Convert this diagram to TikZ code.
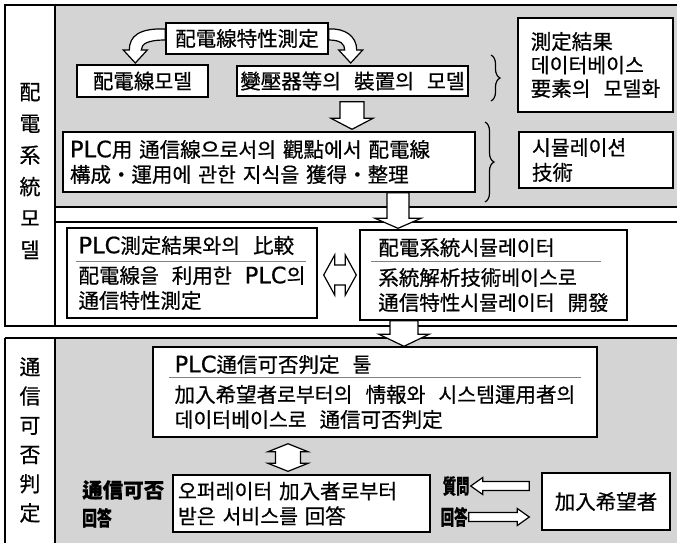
\documentclass[tikz,border=0pt]{standalone}
\usepackage{fontspec}
\setmainfont{Noto Sans CJK KR}[FakeBold=0.6]
\newfontfamily\plcfont{DejaVu Sans}[Scale=1.1,FakeBold=0.6]
\newcommand\plcword{{\plcfont PLC}}
\usetikzlibrary{calc,decorations.pathreplacing}
\definecolor{hatch}{gray}{0.83}
\begin{document}
\begin{tikzpicture}[x=1pt,y=-1pt,
  txt/.style={font={\fontsize{20.5}{25}\selectfont\spaceskip=13pt\relax}},
  box/.style={draw, line width=1.4pt, fill=white, txt, inner ysep=0pt, inner xsep=0pt, align=left},
  blk/.style={draw, line width=1.2pt, fill=white, line join=miter},
  sec/.style={line width=1.6pt},
  uline/.style={draw=black!50, line width=1.6pt},
  brc/.style={draw, line width=1.2pt, decorate, decoration={brace, amplitude=9pt}},
  col/.style={inner sep=0pt, align=center},
  lbl/.style={font={\fontsize{20.5}{28}\selectfont\bfseries}, align=left, inner sep=0pt},
  sblock/.style n args={3}{to path={
    ($(\tikztostart)!#1!90:(\tikztotarget)$)
    -- ($($(\tikztotarget)!#3!(\tikztostart)$)!#1!90:(\tikztotarget)$)
    -- ($($(\tikztotarget)!#3!(\tikztostart)$)!#2!90:(\tikztotarget)$)
    -- (\tikztotarget)
    -- ($($(\tikztotarget)!#3!(\tikztostart)$)!#2!-90:(\tikztotarget)$)
    -- ($($(\tikztotarget)!#3!(\tikztostart)$)!#1!-90:(\tikztotarget)$)
    -- ($(\tikztostart)!#1!-90:(\tikztotarget)$)
    -- cycle}},
  dblock/.style n args={3}{to path={
    (\tikztostart)
    -- ($($(\tikztostart)!#3!(\tikztotarget)$)!#2!90:(\tikztotarget)$)
    -- ($($(\tikztostart)!#3!(\tikztotarget)$)!#1!90:(\tikztotarget)$)
    -- ($($(\tikztotarget)!#3!(\tikztostart)$)!#1!90:(\tikztotarget)$)
    -- ($($(\tikztotarget)!#3!(\tikztostart)$)!#2!90:(\tikztotarget)$)
    -- (\tikztotarget)
    -- ($($(\tikztotarget)!#3!(\tikztostart)$)!#2!-90:(\tikztotarget)$)
    -- ($($(\tikztotarget)!#3!(\tikztostart)$)!#1!-90:(\tikztotarget)$)
    -- ($($(\tikztostart)!#3!(\tikztotarget)$)!#1!-90:(\tikztotarget)$)
    -- ($($(\tikztostart)!#3!(\tikztotarget)$)!#2!-90:(\tikztotarget)$)
    -- cycle}},
]
\useasboundingbox (0,0) rectangle (677,542);
\fill[white] (0,0) rectangle (677,542);

% sections
\fill[hatch] (55,5) rectangle (685,207);
\fill[hatch] (55,338) rectangle (685,550);
\draw[sec] (5,5) -- (685,5);
\draw[sec] (5,5) rectangle (55,326);
\draw[line width=2.2pt] (55,207) -- (685,207);
\draw[sec] (55,222) -- (685,222);
\draw[sec] (5,326) -- (685,326);
\draw[sec] (5,338) -- (685,338);
\draw[sec] (5,550) -- (5,338) (55,338) -- (55,550);

% column labels
\node[col, font={\fontsize{21}{31.6}\selectfont}] (c1) at (30,171) {配\\電\\系\\統\\모\\델};
\node[col, font={\fontsize{21}{29.2}\selectfont}] (c2) at (30,440) {通\\信\\可\\否\\判\\定};

% boxes
\node[box, minimum width=162pt, minimum height=31pt] (top) at (247,38.5) {配電線特性測定};
\node[box, minimum width=131pt, minimum height=32pt] (m1) at (142.5,81) {配電線모델};
\node[box, minimum width=231pt, minimum height=30pt] (m2) at (352.5,81) {變壓器等의 裝置의 모델};
\node[box, minimum width=155pt, minimum height=94pt, font={\fontsize{20.5}{23.5}\selectfont\spaceskip=13pt\relax}] (r1) at (595.5,65) {測定結果\\데이터베이스\\要素의 모델화};
\node[box, minimum width=412pt, minimum height=60pt, text width=398pt] (plc) at (269,162) {\plcword 用 通信線으로서의 觀點에서 配電線\\構成・運用에 관한 지식을 獲得・整理};
\node[box, minimum width=154pt, minimum height=56pt, text width=128pt] (r2) at (596,160) {시뮬레이션\\技術};
\node[box, minimum width=250pt, minimum height=90pt] (pm) at (192,273) {\plcword 測定結果와의 比較\\[5pt]配電線을 利用한 \plcword 의\\通信特性測定};
\node[box, minimum width=267pt, minimum height=90pt] (sim) at (493.5,275) {配電系統시뮬레이터\\[5pt]系統解析技術베이스로\\通信特性시뮬레이터 開發};
\node[box, minimum width=444pt, minimum height=90pt] (judge) at (375,392) {\plcword 通信可否判定 툴\\[5pt]加入希望者로부터의 情報와 시스템運用者의\\데이터베이스로 通信可否判定};
\node[box, minimum width=257pt, minimum height=57pt, text width=247pt] (op) at (301.5,503.5) {오퍼레이터 加入者로부터\\받은 서비스를 回答};
\node[box, minimum width=128pt, minimum height=57pt] (jw) at (606,501.5) {加入希望者};

% title underlines
\draw[uline] ([xshift=10pt,yshift=-34pt]pm.north west) -- ([xshift=-12pt,yshift=-34pt]pm.north east);
\draw[uline] ([xshift=12pt,yshift=-32pt]sim.north west) -- ([xshift=-27pt,yshift=-32pt]sim.north east);
\draw[uline] ([xshift=17pt,yshift=-31pt]judge.north west) -- ([xshift=-17pt,yshift=-31pt]judge.north east);

% braces
\coordinate (b1t) at (491,55);
\coordinate (b1b) at (491,101);
\coordinate (b2t) at (485,122);
\coordinate (b2b) at (485,202);
\draw[brc] (b1t) -- (b1b);
\draw[brc] (b2t) -- (b2b);

% curved hollow arrows from the top box
\draw[blk, shift={(top.west)}] (0,-9.5) .. controls (-26,-10.5) and (-36,-2.5) .. (-36,11.5)
  -- (-42,11.5) -- (-30,24.5) -- (-18,11.5) -- (-24,11.5)
  .. controls (-24,5.5) and (-18,1.5) .. (0,1.5) -- cycle;
\draw[blk, shift={(top.east)}] (0,-9.5) .. controls (16,-10.5) and (28,-2.5) .. (28,11.5)
  -- (34,11.5) -- (22,24.5) -- (10,11.5) -- (16,11.5)
  .. controls (16,5.5) and (12,1.5) .. (0,1.5) -- cycle;

% straight hollow arrows
\coordinate (ax1) at (352,0);
\coordinate (ax2) at (398,0);
\coordinate (ax3) at (404,0);
\coordinate (ax4) at (288,0);
\coordinate (d1s) at ($(m2.south -| ax1)+(0,5)$);
\coordinate (d1e) at ($(plc.north -| ax1)+(0,-2)$);
\coordinate (d2s) at (plc.south -| ax2);
\coordinate (d2e) at ($(sim.north -| ax2)+(0,-1)$);
\coordinate (d3s) at (sim.south -| ax3);
\coordinate (d3e) at (judge.north -| ax3);
\coordinate (v1s) at ($(judge.south -| ax4)+(0,6)$);
\coordinate (v1e) at ($(op.north -| ax4)+(0,-3)$);
\coordinate (h1s) at ($(pm.east)+(6,2)$);
\coordinate (h1e) at ($(sim.west)+(-3,0)$);
\coordinate (qs) at ($(jw.west)+(-12,-15.5)$);
\coordinate (qe) at ($(op.east)+(40,-17.5)$);
\coordinate (as) at ($(op.east)+(38,13.5)$);
\coordinate (ae) at ($(jw.west)+(-12,15.5)$);

\draw[blk] (d1s) to[sblock={12pt}{21pt}{11pt}] (d1e);
\draw[blk] (d2s) to[sblock={11pt}{23pt}{10pt}] (d2e);
\draw[blk] (d3s) to[sblock={14pt}{25pt}{12pt}] (d3e);
\draw[blk] (h1s) to[dblock={10pt}{20pt}{11pt}] (h1e);
\draw[blk] (v1s) to[dblock={12.5pt}{20pt}{8pt}] (v1e);
\draw[blk] (qs) to[sblock={4.5pt}{8.5pt}{12pt}] (qe);
\draw[blk] (as) to[sblock={4.5pt}{8.5pt}{12pt}] (ae);

% free labels
\node[lbl, anchor=west] (ans) at (82,504) {通信可否\\\scalebox{0.72}[1]{回答}};
\node[lbl, anchor=east] (ql) at ($(qe)+(-1,0)$) {\scalebox{0.65}[1]{質問}};
\node[lbl, anchor=east] (al) at ($(as)+(-1,0)$) {\scalebox{0.65}[1]{回答}};
\end{tikzpicture}
\end{document}
